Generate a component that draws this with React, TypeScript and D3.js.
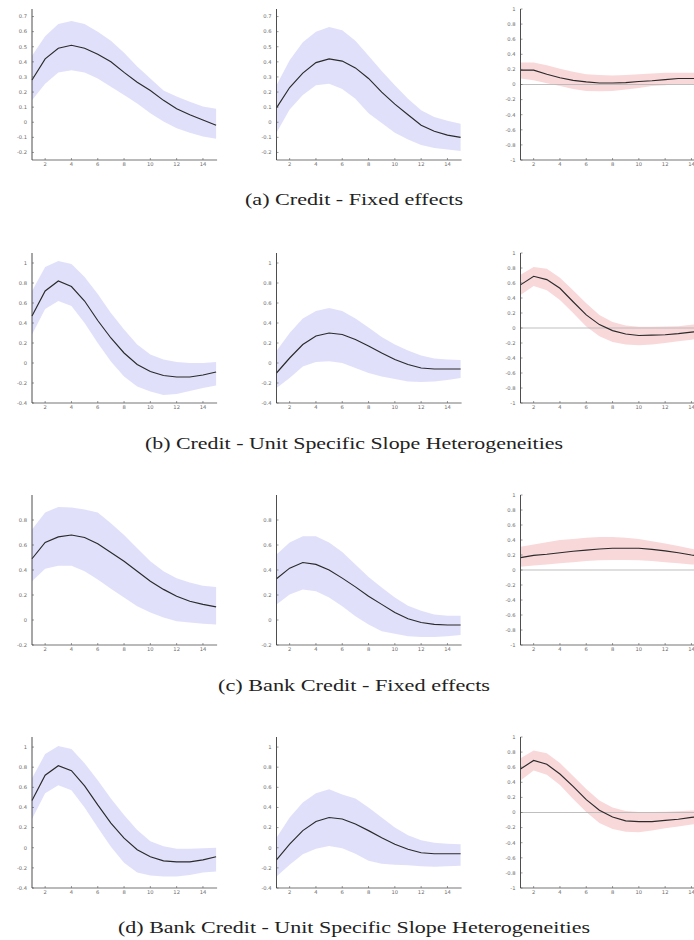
import React from 'react';
import * as d3 from 'd3';

// ---------- data ----------
const horizon = [1, 2, 3, 4, 5, 6, 7, 8, 9, 10, 11, 12, 13, 14, 15];
const xTickValues = [2, 4, 6, 8, 10, 12, 14];

const ticksA = [-0.2, -0.1, 0, 0.1, 0.2, 0.3, 0.4, 0.5, 0.6, 0.7];
const ticksBD = [-0.4, -0.2, 0, 0.2, 0.4, 0.6, 0.8, 1];
const ticksC = [-0.2, 0, 0.2, 0.4, 0.6, 0.8];
const ticksRight = [-1, -0.8, -0.6, -0.4, -0.2, 0, 0.2, 0.4, 0.6, 0.8, 1];

const captions = [
  '(a) Credit - Fixed effects',
  '(b) Credit - Unit Specific Slope Heterogeneities',
  '(c) Bank Credit - Fixed effects',
  '(d) Bank Credit - Unit Specific Slope Heterogeneities',
];

// (a) Credit - Fixed effects
const aLeftMid = [0.28, 0.42, 0.49, 0.51, 0.49, 0.45, 0.40, 0.33, 0.265, 0.21, 0.145, 0.09, 0.05, 0.015, -0.02];
const aLeftHi = [0.44, 0.57, 0.65, 0.67, 0.65, 0.60, 0.54, 0.46, 0.37, 0.29, 0.21, 0.17, 0.135, 0.105, 0.09];
const aLeftLo = [0.145, 0.255, 0.33, 0.345, 0.33, 0.29, 0.235, 0.18, 0.125, 0.06, 0.005, -0.04, -0.07, -0.095, -0.11];

const aMidMid = [0.095, 0.23, 0.325, 0.395, 0.42, 0.405, 0.36, 0.29, 0.2, 0.12, 0.05, -0.02, -0.06, -0.085, -0.1];
const aMidHi = [0.245, 0.41, 0.53, 0.6, 0.63, 0.61, 0.54, 0.44, 0.34, 0.245, 0.155, 0.08, 0.035, 0.01, -0.01];
const aMidLo = [-0.07, 0.085, 0.18, 0.245, 0.255, 0.22, 0.155, 0.06, -0.005, -0.07, -0.115, -0.15, -0.17, -0.18, -0.19];

const aRightMid = [0.19, 0.19, 0.135, 0.09, 0.055, 0.035, 0.02, 0.02, 0.025, 0.04, 0.05, 0.065, 0.08, 0.08, 0.08];
const aRightHi = [0.29, 0.29, 0.255, 0.21, 0.17, 0.135, 0.125, 0.12, 0.125, 0.135, 0.145, 0.155, 0.155, 0.155, 0.155];
const aRightLo = [0.08, 0.055, 0.015, -0.02, -0.06, -0.085, -0.09, -0.085, -0.065, -0.045, -0.02, -0.01, 0.005, 0.005, 0.005];

// (b) Credit - Unit Specific Slope Heterogeneities
const bLeftMid = [0.47, 0.72, 0.82, 0.765, 0.62, 0.425, 0.25, 0.1, -0.015, -0.085, -0.125, -0.14, -0.14, -0.12, -0.09];
const bLeftHi = [0.72, 0.96, 1.02, 0.99, 0.86, 0.69, 0.5, 0.335, 0.185, 0.085, 0.035, 0.01, 0.0, 0.0, 0.01];
const bLeftLo = [0.285, 0.54, 0.62, 0.57, 0.4, 0.2, 0.015, -0.135, -0.235, -0.285, -0.32, -0.31, -0.28, -0.25, -0.225];

const bMidMid = [-0.1, 0.05, 0.185, 0.27, 0.3, 0.285, 0.235, 0.17, 0.1, 0.035, -0.015, -0.05, -0.06, -0.06, -0.06];
const bMidHi = [0.12, 0.3, 0.445, 0.52, 0.55, 0.52, 0.445, 0.355, 0.26, 0.185, 0.125, 0.075, 0.045, 0.035, 0.03];
const bMidLo = [-0.25, -0.15, -0.035, 0.01, 0.017, 0.0, -0.05, -0.1, -0.135, -0.16, -0.185, -0.19, -0.185, -0.17, -0.15];

const bRightMid = [0.575, 0.69, 0.645, 0.53, 0.35, 0.175, 0.045, -0.035, -0.08, -0.1, -0.095, -0.09, -0.075, -0.055, -0.035];
const bRightHi = [0.71, 0.815, 0.79, 0.67, 0.505, 0.33, 0.175, 0.08, 0.035, 0.018, 0.018, 0.02, 0.025, 0.045, 0.055];
const bRightLo = [0.44, 0.56, 0.505, 0.375, 0.2, 0.02, -0.11, -0.185, -0.22, -0.23, -0.22, -0.2, -0.175, -0.155, -0.13];

// (c) Bank Credit - Fixed effects
const cLeftMid = [0.49, 0.62, 0.665, 0.68, 0.66, 0.61, 0.54, 0.47, 0.39, 0.31, 0.245, 0.19, 0.15, 0.125, 0.105];
const cLeftHi = [0.725, 0.86, 0.905, 0.9, 0.885, 0.86, 0.775, 0.68, 0.575, 0.47, 0.39, 0.335, 0.3, 0.275, 0.265];
const cLeftLo = [0.31, 0.41, 0.435, 0.435, 0.39, 0.325, 0.25, 0.18, 0.11, 0.06, 0.02, -0.01, -0.02, -0.03, -0.035];

const cMidMid = [0.33, 0.415, 0.46, 0.445, 0.4, 0.335, 0.265, 0.19, 0.125, 0.06, 0.01, -0.02, -0.035, -0.04, -0.04];
const cMidHi = [0.525, 0.62, 0.67, 0.67, 0.62, 0.545, 0.445, 0.345, 0.26, 0.18, 0.115, 0.075, 0.045, 0.035, 0.035];
const cMidLo = [0.125, 0.205, 0.245, 0.23, 0.18, 0.11, 0.03, -0.035, -0.09, -0.11, -0.13, -0.135, -0.135, -0.13, -0.12];

const cRightMid = [0.165, 0.195, 0.21, 0.23, 0.25, 0.265, 0.28, 0.29, 0.29, 0.29, 0.275, 0.255, 0.23, 0.2, 0.175];
const cRightHi = [0.31, 0.34, 0.37, 0.4, 0.415, 0.43, 0.44, 0.44, 0.43, 0.415, 0.385, 0.355, 0.32, 0.285, 0.25];
const cRightLo = [0.045, 0.06, 0.075, 0.09, 0.105, 0.12, 0.13, 0.135, 0.135, 0.13, 0.12, 0.105, 0.09, 0.075, 0.06];

// (d) Bank Credit - Unit Specific Slope Heterogeneities
const dLeftMid = [0.47, 0.72, 0.815, 0.765, 0.615, 0.425, 0.245, 0.095, -0.02, -0.09, -0.13, -0.14, -0.14, -0.12, -0.09];
const dLeftHi = [0.69, 0.93, 1.01, 0.98, 0.84, 0.67, 0.49, 0.325, 0.175, 0.065, 0.015, -0.01, -0.01, -0.005, 0.0];
const dLeftLo = [0.285, 0.54, 0.62, 0.57, 0.4, 0.2, 0.01, -0.15, -0.245, -0.275, -0.285, -0.285, -0.27, -0.245, -0.235];

const dMidMid = [-0.12, 0.035, 0.17, 0.26, 0.3, 0.285, 0.235, 0.17, 0.1, 0.035, -0.015, -0.05, -0.06, -0.06, -0.06];
const dMidHi = [0.1, 0.3, 0.45, 0.54, 0.58, 0.53, 0.49, 0.4, 0.3, 0.2, 0.125, 0.075, 0.05, 0.04, 0.035];
const dMidLo = [-0.285, -0.17, -0.065, -0.01, 0.017, -0.005, -0.06, -0.13, -0.16, -0.17, -0.175, -0.185, -0.19, -0.185, -0.18];

const dRightMid = [0.575, 0.69, 0.64, 0.51, 0.345, 0.17, 0.03, -0.06, -0.11, -0.12, -0.12, -0.105, -0.09, -0.065, -0.045];
const dRightHi = [0.72, 0.82, 0.785, 0.655, 0.485, 0.31, 0.16, 0.065, 0.02, 0.005, 0.005, 0.01, 0.015, 0.025, 0.035];
const dRightLo = [0.425, 0.555, 0.5, 0.365, 0.18, 0.005, -0.14, -0.22, -0.255, -0.26, -0.24, -0.21, -0.185, -0.16, -0.14];

// ---------- layout ----------
const W = 694;
const H = 940;
const panelX = [32, 276.5, 520.5];
const unitPx = 13.15;
const rowTop = [9, 253, 495, 737];
const rowBottom = [160, 403, 645, 888];
const captionY = [205, 449, 691, 933];
const captionWidth = [218, 418, 272, 472];

const BLUE = '#e0e0fb';
const PINK = '#f9d8da';

type PanelSpec = {
  mid: number[];
  hi: number[];
  lo: number[];
  domain: [number, number];
  ticks: number[];
  fill: string;
  zero: boolean;
};

const rows: PanelSpec[][] = [
  [
    { mid: aLeftMid, hi: aLeftHi, lo: aLeftLo, domain: [-0.25, 0.75], ticks: ticksA, fill: BLUE, zero: false },
    { mid: aMidMid, hi: aMidHi, lo: aMidLo, domain: [-0.25, 0.75], ticks: ticksA, fill: BLUE, zero: false },
    { mid: aRightMid, hi: aRightHi, lo: aRightLo, domain: [-1, 1], ticks: ticksRight, fill: PINK, zero: true },
  ],
  [
    { mid: bLeftMid, hi: bLeftHi, lo: bLeftLo, domain: [-0.4, 1.1], ticks: ticksBD, fill: BLUE, zero: false },
    { mid: bMidMid, hi: bMidHi, lo: bMidLo, domain: [-0.4, 1.1], ticks: ticksBD, fill: BLUE, zero: false },
    { mid: bRightMid, hi: bRightHi, lo: bRightLo, domain: [-1, 1], ticks: ticksRight, fill: PINK, zero: true },
  ],
  [
    { mid: cLeftMid, hi: cLeftHi, lo: cLeftLo, domain: [-0.2, 1.0], ticks: ticksC, fill: BLUE, zero: false },
    { mid: cMidMid, hi: cMidHi, lo: cMidLo, domain: [-0.2, 1.0], ticks: ticksC, fill: BLUE, zero: false },
    { mid: cRightMid, hi: cRightHi, lo: cRightLo, domain: [-1, 1], ticks: ticksRight, fill: PINK, zero: true },
  ],
  [
    { mid: dLeftMid, hi: dLeftHi, lo: dLeftLo, domain: [-0.4, 1.1], ticks: ticksBD, fill: BLUE, zero: false },
    { mid: dMidMid, hi: dMidHi, lo: dMidLo, domain: [-0.4, 1.1], ticks: ticksBD, fill: BLUE, zero: false },
    { mid: dRightMid, hi: dRightHi, lo: dRightLo, domain: [-1, 1], ticks: ticksRight, fill: PINK, zero: true },
  ],
];

const fmt = (v: number) => {
  const r = Math.round(v * 10) / 10;
  if (r === 0) return '0';
  return String(r);
};

function Panel({ spec, x0, top, bottom }: { spec: PanelSpec; x0: number; top: number; bottom: number }) {
  const x = d3.scaleLinear().domain([1, 15]).range([x0, x0 + 14 * unitPx]);
  const y = d3.scaleLinear().domain(spec.domain).range([bottom, top]);
  const area = d3
    .area<number>()
    .x((_, i) => x(horizon[i]))
    .y0((_, i) => y(spec.lo[i]))
    .y1((_, i) => y(spec.hi[i]));
  const line = d3
    .line<number>()
    .x((_, i) => x(horizon[i]))
    .y((d) => y(d));
  const [xa, xb] = x.range();
  return (
    <g>
      <path d={area(spec.mid) || ''} fill={spec.fill} stroke="none" />
      {spec.zero && <line x1={xa} x2={xb} y1={y(0)} y2={y(0)} stroke="#b8b8b8" strokeWidth={0.9} />}
      <path d={line(spec.mid) || ''} fill="none" stroke="#2a2a2a" strokeWidth={1.15} />
      {/* y axis */}
      <line x1={xa} x2={xa} y1={top} y2={bottom} stroke="#3a3a3a" strokeWidth={0.9} />
      {spec.ticks.map((t) => (
        <g key={t}>
          <line x1={xa} x2={xa + 2} y1={y(t)} y2={y(t)} stroke="#555" strokeWidth={0.6} />
          <text x={xa - 5} y={y(t)} dy="0.35em" textAnchor="end" fontSize={5.2} fill="#6a6a6a" fontFamily="DejaVu Sans, sans-serif">
            {fmt(t)}
          </text>
        </g>
      ))}
      {/* x axis */}
      <line x1={xa} x2={xb + 1} y1={bottom} y2={bottom} stroke="#3a3a3a" strokeWidth={0.7} />
      {xTickValues.map((t) => (
        <g key={t}>
          <line x1={x(t)} x2={x(t)} y1={bottom} y2={bottom - 2} stroke="#555" strokeWidth={0.6} />
          <text x={x(t)} y={bottom + 6} textAnchor="middle" fontSize={5.2} fill="#6a6a6a" fontFamily="DejaVu Sans, sans-serif">
            {t}
          </text>
        </g>
      ))}
    </g>
  );
}

export default function App() {
  return (
    <svg
      width={W}
      height={H}
      viewBox={`0 0 ${W} ${H}`}
      style={{ position: 'absolute', left: 0, top: 0, background: '#fff' }}
    >
      <rect x={0} y={0} width={W} height={H} fill="#fff" />
      {rows.map((row, ri) => (
        <g key={ri}>
          {row.map((spec, pi) => (
            <Panel key={pi} spec={spec} x0={panelX[pi]} top={rowTop[ri]} bottom={rowBottom[ri]} />
          ))}
          <text
            x={354}
            y={captionY[ri]}
            textAnchor="middle"
            fontSize={16}
            fill="#222"
            fontFamily="Liberation Serif, serif"
            textLength={captionWidth[ri]}
            lengthAdjust="spacingAndGlyphs"
          >
            {captions[ri]}
          </text>
        </g>
      ))}
    </svg>
  );
}
